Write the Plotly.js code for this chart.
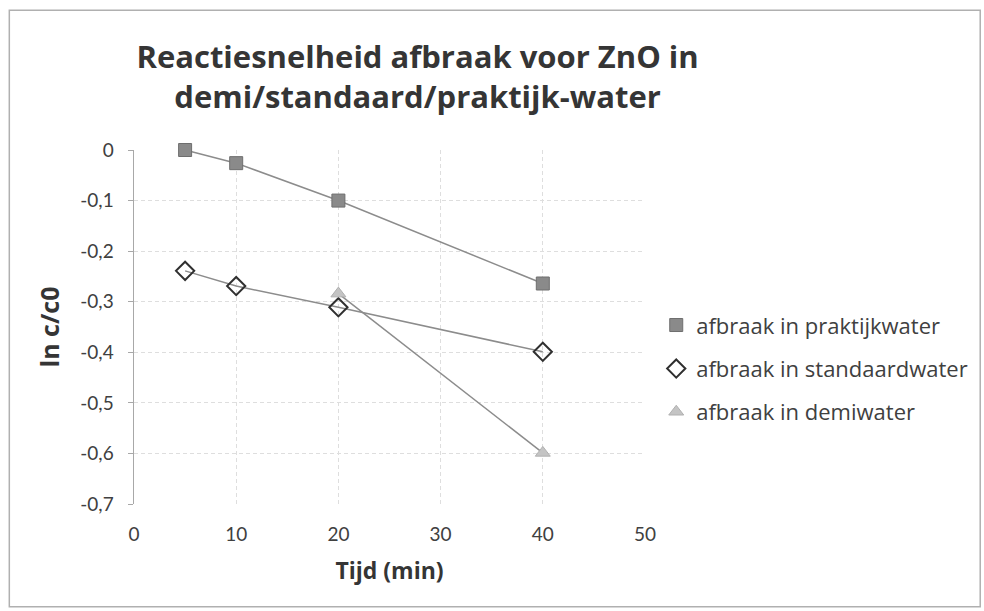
<!DOCTYPE html>
<html><head><meta charset="utf-8">
<script src="https://cdn.plot.ly/plotly-3.0.1.min.js"></script>
<style>body{margin:0;background:#fff}#c{width:984px;height:611px}</style>
</head><body><div id="c"></div>
<script>
const tijd_praktijk = [5, 10, 20, 40];
const lnc_praktijk = [0, -0.026, -0.1, -0.264];
const tijd_standaard = [5, 10, 20, 40];
const lnc_standaard = [-0.239, -0.269, -0.311, -0.399];
const tijd_demi = [20, 40];
const lnc_demi = [-0.284, -0.599];
const seriesNames = ['afbraak in praktijkwater', 'afbraak in standaardwater', 'afbraak in demiwater'];
const yTickVals = [0, -0.1, -0.2, -0.3, -0.4, -0.5, -0.6, -0.7];
const yTickText = ['0', '-0,1', '-0,2', '-0,3', '-0,4', '-0,5', '-0,6', '-0,7'];

const lineStyle = {color: '#8c8c8c', width: 1.5};
const font = 'Lato, "Open Sans", sans-serif';
const wfont = '"Open Sans", sans-serif';
const traces = [
  {x: tijd_praktijk, y: lnc_praktijk, mode: 'lines', line: lineStyle, showlegend: false, hoverinfo: 'skip', cliponaxis: false},
  {x: tijd_standaard, y: lnc_standaard, mode: 'lines', line: lineStyle, showlegend: false, hoverinfo: 'skip', cliponaxis: false},
  {x: tijd_demi, y: lnc_demi, mode: 'lines', line: lineStyle, showlegend: false, hoverinfo: 'skip', cliponaxis: false},
  {x: tijd_praktijk, y: lnc_praktijk, mode: 'markers', name: seriesNames[0], legend: 'legend', cliponaxis: false,
   marker: {symbol: 'square', size: 13, color: '#8a8a8a', line: {color: '#6e6e6e', width: 1}}},
  {x: tijd_standaard, y: lnc_standaard, mode: 'markers', name: seriesNames[1], legend: 'legend2', cliponaxis: false,
   marker: {symbol: 'diamond-open', size: 14, color: '#303030', line: {width: 2}}},
  {x: tijd_demi, y: lnc_demi, mode: 'markers', name: seriesNames[2], legend: 'legend3', cliponaxis: false,
   marker: {symbol: 'triangle-up', size: 13, color: '#c4c4c4', line: {color: '#b0b0b0', width: 1}}}
];
const legendBase = {xanchor: 'left', yanchor: 'middle', bgcolor: 'rgba(0,0,0,0)',
  font: {family: wfont, size: 22, color: '#404040'}, itemwidth: 30};
const layout = {
  width: 984, height: 611,
  margin: {l: 134, r: 338, t: 150, b: 107},
  paper_bgcolor: '#fff', plot_bgcolor: '#fff',
  title: {text: 'Reactiesnelheid afbraak voor ZnO in<br>demi/standaard/praktijk-water',
    font: {family: wfont, size: 31, color: '#353535', weight: 'bold'},
    x: 0.555, xanchor: 'center', xref: 'paper', y: 0.889, yanchor: 'top', yref: 'container'},
  xaxis: {range: [0, 50], tickvals: [0, 10, 20, 30, 40, 50], showline: false, zeroline: false,
    showgrid: true, gridcolor: '#dedede', griddash: '4px,3px', gridwidth: 1,
    tickfont: {family: font, size: 19, color: '#404040'}, ticks: '', ticklen: 0, ticklabelstandoff: 17,
    title: {text: 'Tijd (min)', font: {family: wfont, size: 23, color: '#353535', weight: 'bold'}, standoff: 18}},
  yaxis: {range: [-0.7, 0], tickvals: yTickVals, ticktext: yTickText, showline: true, linecolor: '#a8a8a8', linewidth: 1.5,
    zeroline: false, showgrid: true, gridcolor: '#dedede', griddash: '4px,3px', gridwidth: 1,
    ticks: 'outside', ticklen: 5, tickcolor: '#a8a8a8', ticklabelstandoff: 10,
    tickfont: {family: font, size: 19, color: '#404040'},
    title: {text: 'ln c/c0', font: {family: wfont, size: 25, color: '#353535', weight: 'bold'}, standoff: 13}},
  legend: Object.assign({x: 1.02, y: 0.505}, legendBase),
  legend2: Object.assign({x: 1.02, y: 0.382}, legendBase),
  legend3: Object.assign({x: 1.02, y: 0.26}, legendBase),
  shapes: [{type: 'rect', xref: 'paper', yref: 'paper', x0: -0.244, x1: 1.656, y0: -0.29, y1: 1.395,
    line: {color: '#b0b0b0', width: 1.5}, fillcolor: 'rgba(0,0,0,0)'}],
  showlegend: true
};
Plotly.newPlot('c', traces, layout, {displayModeBar: false, staticPlot: true});
</script></body></html>
